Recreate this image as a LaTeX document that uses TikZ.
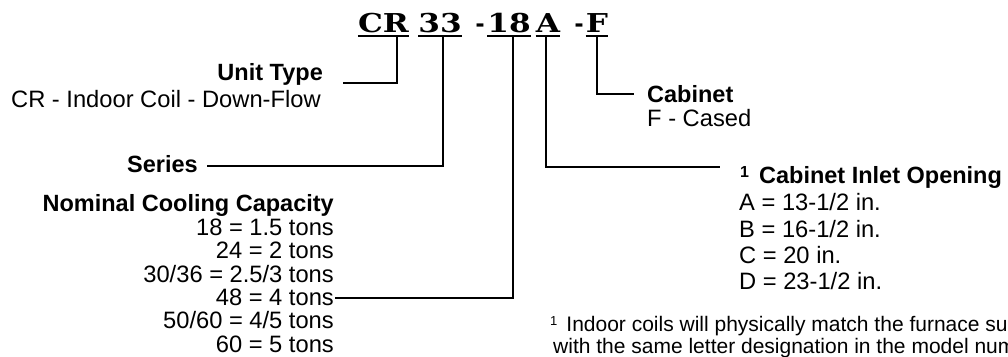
\documentclass[tikz,border=0pt]{standalone}
\usepackage{fontspec}
\setmainfont{Liberation Sans}
\newfontfamily\codefont[FakeStretch=1.2]{DejaVu Serif}
\begin{document}
\begin{tikzpicture}[x=1pt,y=-1pt,
  lbl/.style={inner sep=0pt, font=\fontsize{23.7}{26}\selectfont},
  head/.style={inner sep=0pt, font=\fontsize{23.5}{26}\selectfont\bfseries},
  fnote/.style={inner sep=0pt, font=\fontsize{21}{22}\selectfont},
  code/.style={inner sep=0pt, anchor=base, font=\codefont\bfseries\fontsize{26}{28}\selectfont},
  codedash/.style={inner sep=0pt, anchor=base, font=\bfseries\fontsize{27}{28}\selectfont},
  conn/.style={line width=1.5pt},
  uline/.style={line width=2pt}]
\useasboundingbox (0,0) rectangle (1008,356);
\clip (0,0) rectangle (1008,356);
% model number
\node[code] (cr)  at (383.5,32) {CR};
\node[code] (s33) at (440,32) {33};
\node[codedash] (d1)  at (480,32) {-};
\node[code] (n18) at (509,32) {18};
\node[code] (ca)  at (548,32) {A};
\node[codedash] (d2)  at (579,32) {-};
\node[code] (cf)  at (597,32) {F};
\foreach \n in {cr,s33,n18,ca,cf}
  \draw[uline] ([yshift=-3.5pt]\n.base west) -- ([yshift=-3.5pt]\n.base east);
% attach points
\coordinate (crU)  at (397,35.5);
\coordinate (s33U) at (443,35.5);
\coordinate (n18U) at (513,35.5);
\coordinate (caU)  at (546,35.5);
\coordinate (cfU)  at (597,35.5);
% labels
\node[head, anchor=base east] (ut) at (323,80) {Unit Type};
\node[lbl, anchor=base west] (utd) at (11,107) {CR - Indoor Coil - Down-Flow};
\node[head, anchor=base east] (ser) at (198,172) {Series};
\node[head, anchor=base east] (nc) at (334,211) {Nominal Cooling Capacity};
\node[lbl, anchor=base east] (c18) at (334,235) {18 = 1.5 tons};
\node[lbl, anchor=base east] (c24) at (334,258) {24 = 2 tons};
\node[lbl, anchor=base east] (c30) at (334,282) {30/36 = 2.5/3 tons};
\node[lbl, anchor=base east] (c48) at (334,305) {48 = 4 tons};
\node[lbl, anchor=base east] (c50) at (334,328) {50/60 = 4/5 tons};
\node[lbl, anchor=base east] (c60) at (334,352) {60 = 5 tons};
\node[head, anchor=base west] (cab) at (647,102) {Cabinet};
\node[lbl, anchor=base west] (cabd) at (647,126) {F - Cased};
\node[head, anchor=base west] (cio) at (740,183) {\raisebox{6pt}{\fontsize{16}{16}\selectfont 1}\hspace{10pt}Cabinet Inlet Opening};
\node[lbl, anchor=base west] (oa) at (739,210) {A = 13-1/2 in.};
\node[lbl, anchor=base west] (ob) at (739,237) {B = 16-1/2 in.};
\node[lbl, anchor=base west] (oc) at (739,263) {C = 20 in.};
\node[lbl, anchor=base west] (od) at (739,289) {D = 23-1/2 in.};
\node[fnote, anchor=base west] (fn1) at (550,331) {\raisebox{6pt}{\fontsize{13}{13}\selectfont 1}\hspace{9pt}Indoor coils will physically match the furnace su};
\node[fnote, anchor=base west] (fn2) at (553,353) {with the same letter designation in the model num};
% connectors
\coordinate (utL)  at (343,83);
\coordinate (serL) at (207,166);
\coordinate (capL) at (335,298);
\coordinate (cioL) at (720,167);
\coordinate (cabL) at (634,94);
\draw[conn] (crU)  |- (utL);
\draw[conn] (s33U) |- (serL);
\draw[conn] (n18U) |- (capL);
\draw[conn] (caU)  |- (cioL);
\draw[conn] (cfU)  |- (cabL);
\end{tikzpicture}
\end{document}
